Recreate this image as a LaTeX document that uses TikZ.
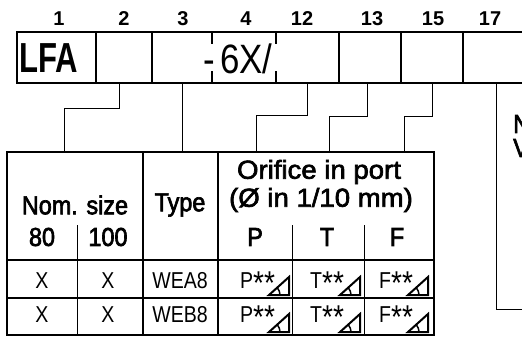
\documentclass[tikz,border=0pt]{standalone}
\usepackage{fontspec}
\setmainfont{Liberation Sans}
\newfontfamily\condfont[FakeStretch=0.74]{Liberation Sans}
\newfontfamily\midfont[FakeStretch=0.85]{Liberation Sans}
\newfontfamily\headfont[FakeStretch=0.9, FakeBold=2.5]{Liberation Sans}
\newfontfamily\widefont[FakeStretch=1.06, FakeBold=2.5]{Liberation Sans}
\newcommand{\starsize}{\midfont\fontsize{33}{33}\selectfont}
\usetikzlibrary{positioning}

\begin{document}
\begin{tikzpicture}[x=1pt, y=-1pt, every node/.style={inner sep=0pt},
  heavy/.style={line width=2.4pt},
  light/.style={line width=1pt},
  cell/.style={minimum height=51pt},
  idx/.style={font=\bfseries\fontsize{20}{20}\selectfont},
  head/.style={font=\headfont\fontsize{26}{26}\selectfont},
  wide/.style={font=\widefont\fontsize{26}{26}\selectfont},
  entry/.style={font=\midfont\fontsize{23}{23}\selectfont},
  orifice/.pic={
    \draw[line width=2pt, line join=miter] (-20,0) -- (0,0) -- (0,-18) -- cycle;
    \draw[line width=1.5pt] (-9,0) arc[start angle=0, end angle=-40, radius=11];
  }]
  \useasboundingbox (0,0) rectangle (522,338);
  % type code boxes
  \node[cell, minimum width=79pt] (c1) at (56.5,57.5) {};
  \node[cell, minimum width=56pt] (c2) at (124,57.5) {};
  \node[cell, minimum width=60pt] (c3) at (182,57.5) {};
  \node[cell, minimum width=64pt] (c4) at (244,57.5) {};
  \node[cell, minimum width=63pt] (c12) at (307.5,57.5) {};
  \node[cell, minimum width=62pt] (c13) at (370,57.5) {};
  \node[cell, minimum width=62pt] (c15) at (432,57.5) {};
  \node[cell, minimum width=66pt] (c17) at (496,57.5) {};
  \draw[heavy] (c17.north east) -- (c1.north west) -- (c1.south west) -- (c17.south east);
  \draw[heavy] (c1.north east) -- (c1.south east);
  \draw[heavy] (c2.north east) -- (c2.south east);
  \draw[heavy] (c12.north east) -- (c12.south east);
  \draw[heavy] (c13.north east) -- (c13.south east);
  \draw[heavy] (c15.north east) -- (c15.south east);
  \draw[heavy] (c4.north west) -- ++(0,12);
  \draw[heavy] (c4.south west) -- ++(0,-12);
  \draw[heavy] (c12.north west) -- ++(0,12);
  \draw[heavy] (c12.south west) -- ++(0,-12);
  \node[font=\condfont\bfseries\fontsize{42}{42}\selectfont] (lfa) at (49,58) {LFA};
  \node[font=\midfont\fontsize{41}{41}\selectfont] (series) at (238,59) {-\kern5pt6X/};
  % position numbers
  \node[idx] (n1) at (59,19) {1};
  \node[idx] (n2) at (124,19) {2};
  \node[idx] (n3) at (183,19) {3};
  \node[idx] (n4) at (246,19) {4};
  \node[idx] (n12) at (302,19) {12};
  \node[idx] (n13) at (372,19) {13};
  \node[idx] (n15) at (433,19) {15};
  \node[idx] (n17) at (490,19) {17};
  % table
  \coordinate (tnom) at (64,152);
  \coordinate (ttype) at (182,152);
  \coordinate (tp) at (256,152);
  \coordinate (tt) at (329,152);
  \coordinate (tf) at (404,152);
  \coordinate (vend) at (530,309);
  \draw[heavy] (7,152) rectangle (434,335);
  \draw[heavy] (143,152) -- (143,335);
  \draw[heavy] (218,152) -- (218,335);
  \draw[heavy] (7,260) -- (434,260);
  \draw[line width=1.4pt] (7,298) -- (434,298);
  \draw[light] (77,225) -- (77,335);
  \draw[light] (292,225) -- (292,335);
  \draw[light] (364,225) -- (364,335);
  % connectors
  \draw[light] ([xshift=-5pt]c2.south) -- ++(0,25) -| (tnom);
  \draw[light] (c3.south) -- (ttype);
  \draw[light] (c12.south) -- ++(0,32) -| (tp);
  \draw[light] ([xshift=-3pt]c13.south) -- ++(0,33) -| (tt);
  \draw[light] (c15.south) -- ++(0,33) -| (tf);
  \draw[light] (c17.south) |- (vend);
  % header
  \node[head] (nom) at (75,205) {Nom. size};
  \node[head] (s80) at (42,237) {80};
  \node[head] (s100) at (108,237) {100};
  \node[head] (type) at (180,205) {Type};
  \node[wide] (orif) at (319,172) {Orifice in port};
  \node[wide] (dia) at (321,200) {(Ø in 1/10 mm)};
  \node[head] (pp) at (255,237) {P};
  \node[head] (pt) at (327,237) {T};
  \node[head] (pf) at (397,237) {F};
  \node[head, anchor=west] (noteN) at (513,124) {N};
  \node[head, anchor=west] (noteV) at (513,148) {V};
  % rows
  \node[entry, anchor=base] (a80) at (42,288) {X};
  \node[entry, anchor=base] (a100) at (108,288) {X};
  \node[entry, anchor=base] (atype) at (180,288) {WEA8};
  \node[entry, anchor=base west] (ap) at (240,288) {P\raisebox{-6pt}{\starsize**}};
  \node[entry, anchor=base west] (at) at (310,288) {T\raisebox{-6pt}{\starsize**}};
  \node[entry, anchor=base west] (af) at (379,288) {F\raisebox{-6pt}{\starsize**}};
  \pic at (289,295) {orifice};
  \pic at (360,295) {orifice};
  \pic at (428,295) {orifice};
  \node[entry, anchor=base] (b80) at (42,322) {X};
  \node[entry, anchor=base] (b100) at (108,322) {X};
  \node[entry, anchor=base] (btype) at (180,322) {WEB8};
  \node[entry, anchor=base west] (bp) at (240,322) {P\raisebox{-6pt}{\starsize**}};
  \node[entry, anchor=base west] (bt) at (310,322) {T\raisebox{-6pt}{\starsize**}};
  \node[entry, anchor=base west] (bf) at (379,322) {F\raisebox{-6pt}{\starsize**}};
  \pic at (289,332) {orifice};
  \pic at (360,332) {orifice};
  \pic at (428,332) {orifice};
\end{tikzpicture}
\end{document}
